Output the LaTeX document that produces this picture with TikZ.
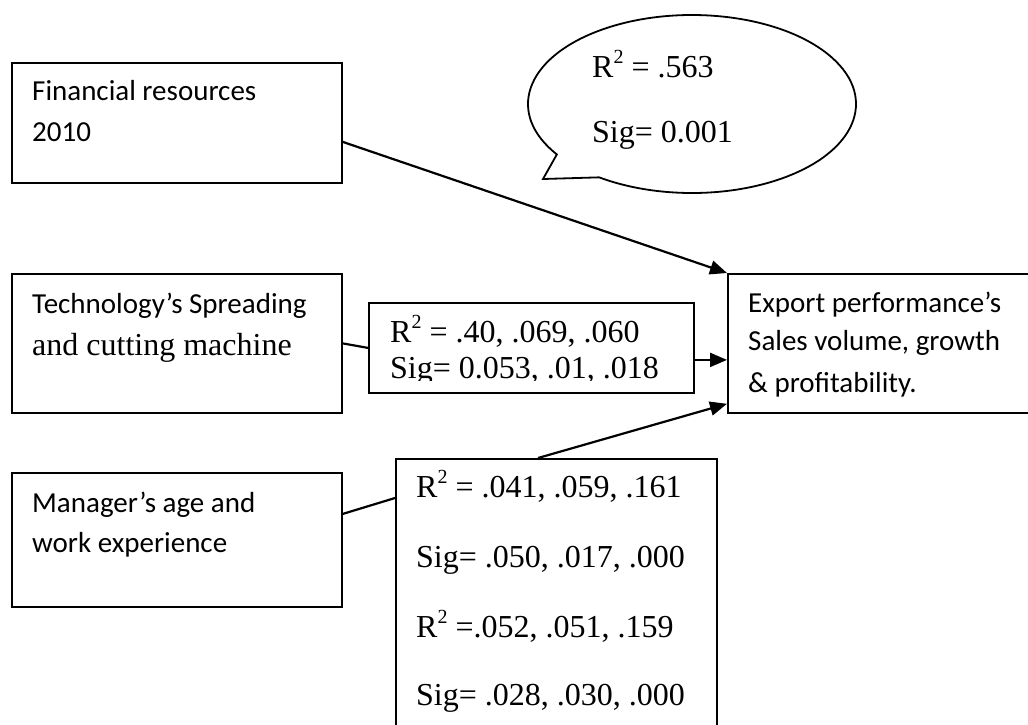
\documentclass[tikz,border=0pt]{standalone}
\usepackage{fontspec}
\setmainfont{Liberation Serif}
\newfontfamily\calibri{Carlito}
\usetikzlibrary{arrows.meta}
\newcommand\rsq{R\raisebox{0.42em}{\fontsize{20}{20}\selectfont 2}}

\tikzset{
  boxline/.style={line width=1.8pt},
  panel/.style={draw, boxline, rectangle, inner sep=0pt, anchor=north west},
  lab/.style={anchor=base west, inner sep=0pt},
  sans/.style={font=\calibri\fontsize{29}{35}\selectfont},
  serif/.style={font=\fontsize{32}{38}\selectfont},
  conn/.style={line width=2.2pt},
  arr/.style={conn, -{Triangle[length=17pt,width=14pt]}}
}

\begin{document}
\begin{tikzpicture}[x=1pt,y=-1pt]
\clip (0,0) rectangle (1028,724);
\fill[white] (0,0) rectangle (1028,724);

% factor boxes
\node[panel, minimum width=330pt, minimum height=120pt] (fin)  at (11,62)  {};
\node[panel, minimum width=330pt, minimum height=139pt] (tech) at (11,273) {};
\node[panel, minimum width=330pt, minimum height=134pt] (mgr)  at (11,472) {};

% outcome box
\node[panel, minimum width=330pt, minimum height=139pt] (exp)  at (727,273) {};

% statistics boxes
\node[panel, minimum width=325pt, minimum height=90pt]  (r2a)  at (368,302) {};
\node[panel, minimum width=321pt, minimum height=290pt] (r2b)  at (395,458) {};

% box texts
\node[lab,sans] (fin1) at (32,100) {Financial resources};
\node[lab,sans] (fin2) at (32,141) {2010};
\node[lab,sans] (tech1) at (32,313) {Technology’s Spreading};
\node[lab,serif] (tech2) at (32,355) {and cutting machine};
\node[lab,sans] (mgr1) at (32,512) {Manager’s age and};
\node[lab,sans] (mgr2) at (32,552) {work experience};
\node[lab,sans] (exp1) at (748,312) {Export performance’s};
\node[lab,sans] (exp2) at (748,350) {Sales volume, growth};
\node[lab,sans] (exp3) at (748,392) {\& profitability.};

\begin{scope}
  \clip (368,302) rectangle (693,380);
  \node[lab,serif] (r2a1) at (390,342) {\rsq\ = .40, .069, .060};
  \node[lab,serif] (r2a2) at (390,378) {Sig= 0.053, .01, .018};
\end{scope}

\node[lab,serif] (r2b1) at (416,497) {\rsq\ = .041, .059, .161};
\node[lab,serif] (r2b2) at (416,567) {Sig= .050, .017, .000};
\node[lab,serif] (r2b3) at (416,637) {\rsq\ =.052, .051, .159};
\node[lab,serif] (r2b4) at (416,705) {Sig= .028, .030, .000};

% speech bubble
\coordinate (ec) at (692,104);
\coordinate (tip) at (543,179);
\draw[boxline, fill=white] (ec) ++(145.5:164 and 89)
  arc[start angle=145.5, end angle=484.5, x radius=164, y radius=89]
  -- (tip) -- cycle;
\node[lab,serif] (ell1) at (592,77)  {\rsq\ = .563};
\node[lab,serif] (ell2) at (592,142) {Sig= 0.001};

% connectors
\draw[arr]  ([yshift=-19pt]fin.east) -- (exp.north west);
\draw[conn] (tech.east) -- (r2a.west);
\draw[arr]  ([yshift=-12pt]r2a.east) -- ([yshift=-12pt]r2a.east -| exp.west);
\draw[conn] ([yshift=26pt]mgr.east) -- ([yshift=-40pt]r2b.north west);
\draw[arr]  ([xshift=143pt]r2b.north west) -- ([yshift=10pt]exp.south west);
\end{tikzpicture}
\end{document}
